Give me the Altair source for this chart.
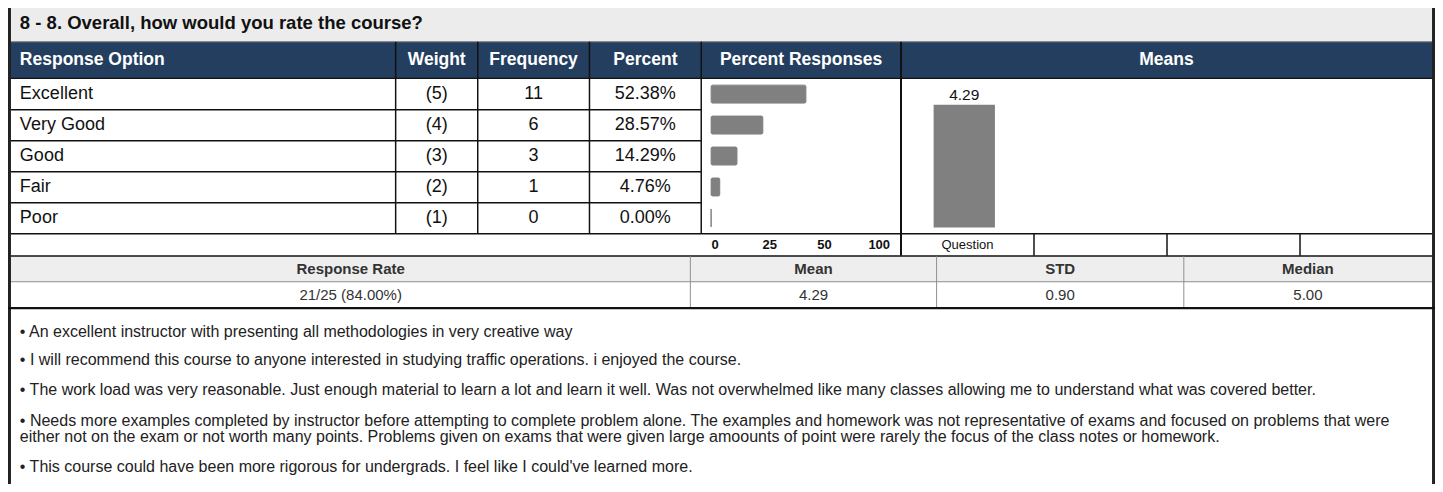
import altair as alt
import pandas as pd

# ---------------- data ----------------
question = "8 - 8. Overall, how would you rate the course?"
options = ["Excellent", "Very Good", "Good", "Fair", "Poor"]
weights = [5, 4, 3, 2, 1]
frequency = [11, 6, 3, 1, 0]
percent = [52.38, 28.57, 14.29, 4.76, 0.00]
column_headers = ["Response Option", "Weight", "Frequency", "Percent", "Percent Responses", "Means"]
percent_ticks = ["0", "25", "50", "100"]
mean_series = ["Question"]
mean_values = [4.29]
stat_headers = ["Response Rate", "Mean", "STD", "Median"]
stat_values = ["21/25 (84.00%)", "4.29", "0.90", "5.00"]
comments = [
    ["• An excellent instructor with presenting all methodologies in very creative way"],
    ["• I will recommend this course to anyone interested in studying traffic operations. i enjoyed the course."],
    ["• The work load was very reasonable. Just enough material to learn a lot and learn it well. Was not overwhelmed like many classes allowing me to understand what was covered better."],
    ["• Needs more examples completed by instructor before attempting to complete problem alone. The examples and homework was not representative of exams and focused on problems that were",
     "either not on the exam or not worth many points. Problems given on exams that were given large amoounts of point were rarely the focus of the class notes or homework."],
    ["• This course could have been more rigorous for undergrads. I feel like I could've learned more."],
]

# ---------------- layout (reference pixel space) ----------------
REF_W, REF_H = 1443, 492
W, H = 1427, 476
KX, KY = W / REF_W, H / REF_H
FONT = "Liberation Sans, Arial, sans-serif"
NAVY = "#243e60"
GREY_BG = "#ececec"
BAR = "#808080"
LINE = "#111111"

col_edges = [3, 392, 475, 588, 701, 903, 1440]
header_x = [12, 433.5, 531.5, 644.5, 802, 1171.5]
row_top, row_bottom = 73, 233
stat_edges = [3, 690, 939, 1189, 1440]
stat_x = [(stat_edges[i] + stat_edges[i + 1]) / 2 for i in range(4)]
stat_rows = (256.5, 283, 310)
question_cells = [903, 1037.5, 1172, 1306.5, 1440]
comment_y = [335, 364, 395, 427, 474]
comment_line = 16.5

lx = alt.Scale(domain=[0, REF_W], range=[0, W], nice=False, zero=False)
ly = alt.Scale(domain=[0, REF_H], range=[0, H], nice=False, zero=False)


def rects(items):
    df = pd.DataFrame(items, columns=["x", "x2", "y", "y2", "c"])
    return alt.Chart(df).mark_rect().encode(
        x=alt.X("x:Q", scale=lx, axis=None),
        x2="x2:Q",
        y=alt.Y("y:Q", scale=ly, axis=None),
        y2="y2:Q",
        color=alt.Color("c:N", scale=None),
    )


fills = [
    (0, REF_W, 0, 35, GREY_BG),
    (0, REF_W, 35, 73, NAVY),
    (0, REF_W, stat_rows[0], stat_rows[1], "#eeeeee"),
]
lines = [
    (0, 3, 0, REF_H, "#222222"),
    (1440, REF_W, 0, REF_H, "#222222"),
    (3, 1440, 34, 35.3, "#8a8a8a"),
    (3, 1440, 72, 73.5, LINE),
]
for yb in [104.5, 136.5, 168.5, 200.5]:
    lines.append((3, 701, yb, yb + 1.5, LINE))
lines.append((3, 1440, 232.5, 234, LINE))
lines.append((3, 1440, 255.5, 257, LINE))
for xb in col_edges[1:5]:
    lines.append((xb - 0.75, xb + 0.75, 35, 233, LINE))
lines.append((902, 904, 35, 256, LINE))
for xb in question_cells[1:4]:
    lines.append((xb - 0.75, xb + 0.75, 233, 256, LINE))
for xb in stat_edges[1:4]:
    lines.append((xb - 0.5, xb + 0.5, 256.5, 310, "#8f8f8f"))
lines.append((3, 1440, 282.5, 283.5, "#8f8f8f"))
lines.append((0, REF_W, 309, 311.5, LINE))

# ---------------- data tables ----------------
table = pd.DataFrame({
    "option": options,
    "weight": [f"({w})" for w in weights],
    "freq": [str(f) for f in frequency],
    "pct": percent,
    "pct_label": [f"{p:.2f}%" for p in percent],
})
row_scale = alt.Scale(type="band", domain=options, range=[row_top * KY, row_bottom * KY],
                      paddingInner=0.42, paddingOuter=0.21)

pct_bars = alt.Chart(table).mark_bar(color=BAR, stroke=BAR, strokeWidth=1, cornerRadius=1.5).encode(
    x=alt.X("pct:Q", scale=alt.Scale(domain=[0, 100], range=[711 * KX, 894 * KX], nice=False), axis=None),
    y=alt.Y("option:N", scale=row_scale, axis=None),
)

means = pd.DataFrame({"series": mean_series, "mean": mean_values,
                      "label": [f"{m:.2f}" for m in mean_values]})
mean_x = alt.Scale(type="band", domain=mean_series, range=[903 * KX, 1038 * KX],
                   paddingInner=0, paddingOuter=0.5887, align=0.452)
mean_y = alt.Scale(domain=[0, 5], range=[227 * KY, 79 * KY], nice=False)
mean_bar = alt.Chart(means).mark_bar(color=BAR).encode(
    x=alt.X("series:N", scale=mean_x, axis=None),
    y=alt.Y("mean:Q", scale=mean_y, axis=None),
)
mean_label = alt.Chart(means).mark_text(font=FONT, fontSize=15.5, color="#111", baseline="middle", dy=-10).encode(
    x=alt.X("series:N", scale=mean_x, axis=None),
    y=alt.Y("mean:Q", scale=mean_y, axis=None),
    text="label:N",
)


def txt(df, field, x, y, **kw):
    base = dict(font=FONT, baseline="middle")
    base.update(kw)
    return alt.Chart(df).mark_text(**base).encode(x=x, y=y, text=f"{field}:N")


layers = [rects(fills), pct_bars, mean_bar, rects(lines), mean_label]

# title
layers.append(txt(pd.DataFrame({"t": [question]}), "t", alt.value(12 * KX), alt.value(15 * KY),
                  align="left", fontSize=18.5, fontWeight="bold", color="#111"))
# headers
hdr = pd.DataFrame({"h": column_headers, "x": header_x})
layers.append(txt(hdr.iloc[:1], "h", alt.X("x:Q", scale=lx, axis=None), alt.value(54 * KY),
                  align="left", fontSize=17.5, fontWeight="bold", color="white"))
layers.append(txt(hdr.iloc[1:], "h", alt.X("x:Q", scale=lx, axis=None), alt.value(54 * KY),
                  align="center", fontSize=17.5, fontWeight="bold", color="white"))
# rows
ry = alt.Y("option:N", scale=row_scale, axis=None)
layers.append(txt(table, "option", alt.value(12 * KX), ry, align="left", fontSize=18, color="#111"))
for fld, cx in [("weight", header_x[1]), ("freq", header_x[2]), ("pct_label", header_x[3])]:
    layers.append(txt(table, fld, alt.value(cx * KX), ry, align="center", fontSize=18, color="#111"))
# percent axis labels
ticks = pd.DataFrame({"tick": percent_ticks})
layers.append(txt(ticks, "tick",
                  alt.X("tick:N", scale=alt.Scale(type="point", domain=percent_ticks,
                                                  range=[715 * KX, 881 * KX], padding=0), axis=None),
                  alt.value(245 * KY), align="center", fontSize=13, fontWeight="bold", color="#111"))
# question label
layers.append(txt(means, "series", alt.value((question_cells[0] + question_cells[1]) / 2 * KX),
                  alt.value(245 * KY), align="center", fontSize=13, color="#111"))
# stats
stats = pd.DataFrame({"h": stat_headers, "v": stat_values, "x": stat_x})
layers.append(txt(stats, "h", alt.X("x:Q", scale=lx, axis=None), alt.value(270 * KY),
                  align="center", fontSize=15, fontWeight="bold", color="#333"))
layers.append(txt(stats, "v", alt.X("x:Q", scale=lx, axis=None), alt.value(297 * KY),
                  align="center", fontSize=15, color="#333"))
# comments
crow = []
for i, c in enumerate(comments):
    for j, line in enumerate(c):
        crow.append({"t": line, "y": comment_y[i] + j * comment_line})
cdf = pd.DataFrame(crow)
layers.append(txt(cdf, "t", alt.value(12 * KX), alt.Y("y:Q", scale=ly, axis=None),
                  align="left", fontSize=16, color="#222"))

chart = alt.layer(*layers).resolve_scale(x="independent", y="independent").properties(
    width=W, height=H, padding=0, autosize="none", background="white"
).configure_view(stroke=None)

chart.save("out.html", embed_options={"renderer": "svg", "actions": False})
